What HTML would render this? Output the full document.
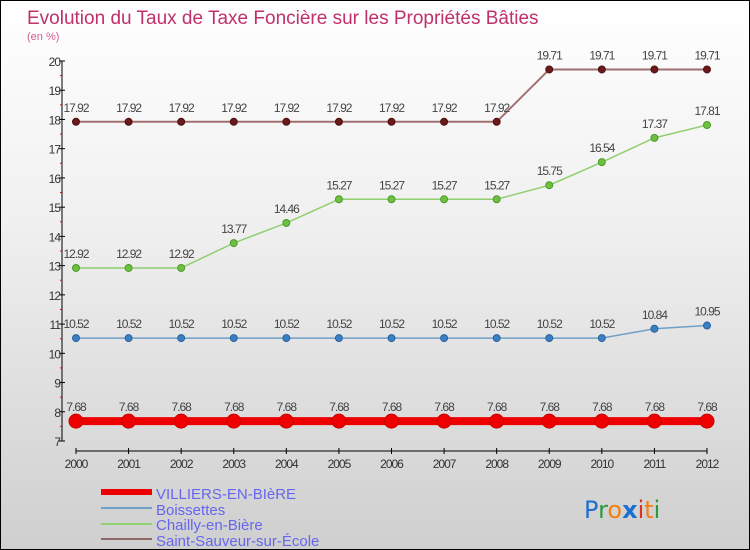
<!DOCTYPE html>
<html><head><meta charset="utf-8"><style>
html,body{margin:0;padding:0}
body{width:750px;height:550px;overflow:hidden;font-family:"Liberation Sans",sans-serif}
#wrap{position:relative;width:748px;height:548px;border:1px solid #000;background:linear-gradient(#fff 0%,#f0f0f0 40%,#cfcfcf 100%)}
</style></head><body>
<div id="wrap">
<svg id="chart" width="748" height="548" xmlns="http://www.w3.org/2000/svg" style="position:absolute;left:0;top:0">
<text x="26" y="23" font-size="19" fill="#c0306a">Evolution du Taux de Taxe Foncière sur les Propriétés Bâties</text>
<text x="26" y="39" font-size="11" fill="#d06090">(en %)</text>
<g id="axes"></g>
<g id="series"></g>
<g id="legend">
<rect x="100" y="488" width="51" height="6" fill="#e00"/>
<text x="155" y="498" font-size="15" fill="#6666ee">VILLIERS-EN-BIèRE</text>
<rect x="100" y="506" width="51" height="2" fill="#6fa0c8"/>
<text x="155" y="514" font-size="15" fill="#6666ee">Boissettes</text>
<rect x="100" y="522" width="51" height="2" fill="#90d070"/>
<text x="155" y="529" font-size="15" fill="#6666ee">Chailly-en-Bière</text>
<rect x="100" y="537" width="51" height="2" fill="#906868"/>
<text x="155" y="545" font-size="15" fill="#6666ee">Saint-Sauveur-sur-École</text>
</g>
<text x="583" y="517" font-size="24" font-family="'DejaVu Sans',sans-serif"><tspan fill="#1a6fd0">P</tspan><tspan fill="#2a9a3a">r</tspan><tspan fill="#f08010">o</tspan><tspan fill="#1a6fd0" font-weight="bold">x</tspan><tspan fill="#e03020">i</tspan><tspan fill="#f08010">t</tspan><tspan fill="#2a9a3a">i</tspan></text>
</svg>
</div>
<script>
const years = [2000,2001,2002,2003,2004,2005,2006,2007,2008,2009,2010,2011,2012];
const villiers = [7.68,7.68,7.68,7.68,7.68,7.68,7.68,7.68,7.68,7.68,7.68,7.68,7.68];
const boissettes = [10.52,10.52,10.52,10.52,10.52,10.52,10.52,10.52,10.52,10.52,10.52,10.84,10.95];
const chailly = [12.92,12.92,12.92,13.77,14.46,15.27,15.27,15.27,15.27,15.75,16.54,17.37,17.81];
const saintSauveur = [17.92,17.92,17.92,17.92,17.92,17.92,17.92,17.92,17.92,19.71,19.71,19.71,19.71];
const yTicks = [7,8,9,10,11,12,13,14,15,16,17,18,19,20];

const NS="http://www.w3.org/2000/svg";
const x = i => 75 + i*(706-75)/(years.length-1);
const y = v => 60 + (20-v)*(440-60)/(20-7);
function mk(tag, attrs, parent){const e=document.createElementNS(NS,tag);for(const k in attrs)e.setAttribute(k,attrs[k]);parent.appendChild(e);return e;}
const axes=document.getElementById('axes'), ser=document.getElementById('series');

let e=mk('line',{x1:61,y1:y(20),x2:61,y2:y(7),stroke:'#000','stroke-width':1},axes);


yTicks.forEach(t=>{
  mk('line',{x1:58,y1:y(t),x2:64,y2:y(t),stroke:'#000'},axes);
  const l=mk('text',{x:59,y:y(t)+5,'font-size':12,fill:'#333','text-anchor':'end','letter-spacing':'-1'},axes);
  l.textContent=t;
  
  
  if(t<20) mk('line',{x1:59,y1:y(t+0.5),x2:61,y2:y(t+0.5),stroke:'#e00'},axes);
});
e=mk('line',{x1:75,y1:450,x2:706,y2:450,stroke:'#000'},axes);


years.forEach((yr,i)=>{
  mk('line',{x1:x(i),y1:447,x2:x(i),y2:453,stroke:'#000'},axes);
  const l=mk('text',{x:x(i),y:467,'font-size':12,fill:'#333','text-anchor':'middle','letter-spacing':'-1'},axes);
  l.textContent=yr;
  
  
});

function series(vals,name,color,dot,lw,r,dstroke){
  const g=mk('g',{},ser);
  
  
  const pts=vals.map((v,i)=>x(i)+','+y(v)).join(' ');
  mk('polyline',{points:pts,fill:'none',stroke:color,'stroke-width':lw},g);
  vals.forEach((v,i)=>{
    const c=mk('circle',{cx:x(i),cy:y(v),r:r,fill:dot,stroke:dstroke,'stroke-width':1},g);
    
    
    const t=mk('text',{x:x(i),y:y(v)-10,'font-size':12,fill:'#444','text-anchor':'middle','letter-spacing':'-1'},g);
    t.textContent=String(v);
    
    
  });
}
series(saintSauveur,'saint-sauveur','#a07070','#6a1a1a',2,3.5,'#501010');
series(chailly,'chailly','#90d070','#70c040',1.5,3.5,'#4a9a2a');
series(boissettes,'boissettes','#6fa0c8','#3a80c0',1.5,3.5,'#2a60a0');
series(villiers,'villiers','#e00','#e00',8,7,'#c00');
</script>
</body></html>
